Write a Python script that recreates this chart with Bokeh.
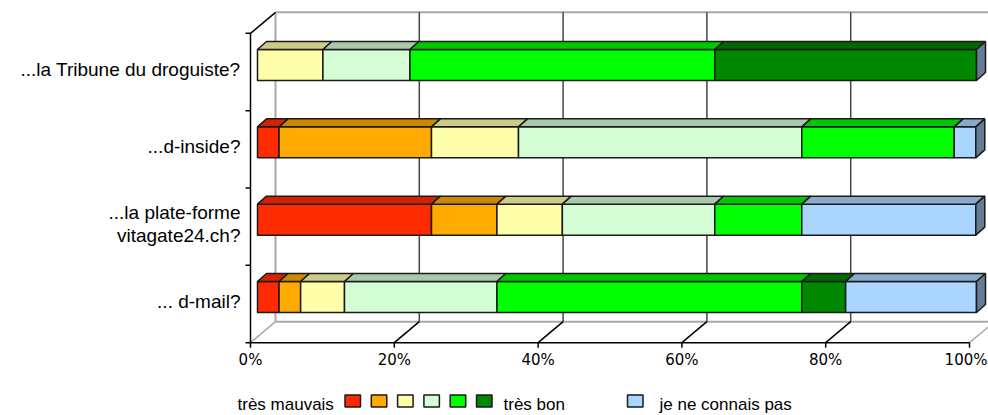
from bokeh.plotting import figure
from bokeh.models import Range1d
from bokeh.core.properties import value
from bokeh.embed import file_html
from bokeh.resources import INLINE

# ---------------- data (top to bottom as displayed) ----------------
categories = ["...la Tribune du droguiste?", "...d-inside?",
              "...la plate-forme\nvitagate24.ch?", "... d-mail?"]
tres_mauvais = [0.0, 3.0, 24.2, 3.0]
note_2 = [0.0, 21.2, 9.1, 3.0]
note_3 = [9.1, 12.1, 9.1, 6.1]
note_4 = [12.1, 39.4, 21.2, 21.2]
note_5 = [42.4, 21.2, 12.1, 42.4]
tres_bon = [36.4, 0.0, 0.0, 6.1]
je_ne_connais_pas = [0.0, 3.0, 24.2, 18.2]
series = [tres_mauvais, note_2, note_3, note_4, note_5, tres_bon, je_ne_connais_pas]
tick_values = [0, 20, 40, 60, 80, 100]
tick_labels = ["0%", "20%", "40%", "60%", "80%", "100%"]
legend_low = "très mauvais"
legend_high = "très bon"
legend_unknown = "je ne connais pas"

# ---------------- styles ----------------
front_colors = ["#FF2A00", "#FFAA00", "#FFFFAA", "#D5FDD5", "#00FF00", "#008800", "#AAD5FF"]
top_colors = ["#D42200", "#CC8800", "#CCCC88", "#AAC8AA", "#00C800", "#006800", "#88AACC"]
side_color = "#647C94"
edge = "#1a1a1a"
wall_gray = "#a8a8a8"
grid_col = "#454545"

# ---------------- geometry (pixels) ----------------
W, H = 988, 415
SX = 7.19            # px per percent on bar front plane
SY = 77.33           # px per category
X0_PX = 257          # px of 0% on bar front plane
Y0_PX = 296.5        # px (from top) of lowest category centre
BAR_H = 31           # px
DEPTH = (9, 8)       # bar depth offset (right, up)
AX_OFF = (-7, -7)    # front axis plane offset from bar plane (right, up)
BACK_OFF = (18, 14)  # back wall offset from bar plane (right, up)

x_start = -X0_PX / SX
x_end = x_start + W / SX
y_start = (Y0_PX - H) / SY
y_end = Y0_PX / SY


def ox(px):
    return px / SX


def oy(px):
    return px / SY


p = figure(width=W, height=H, output_backend="svg", toolbar_location=None,
           x_range=Range1d(x_start, x_end), y_range=Range1d(y_start, y_end),
           min_border=0, min_border_left=0, min_border_right=0,
           min_border_top=0, min_border_bottom=0)
p.axis.visible = False
p.grid.visible = False
p.outline_line_color = None
p.background_fill_color = "white"
p.border_fill_color = "white"

n = len(categories)
pos = [n - 1 - k for k in range(n)]  # y position of each category
y_lo = -0.5
y_hi = n - 0.5


def fx(v):
    return v + ox(AX_OFF[0])


def fy(c):
    return c + oy(AX_OFF[1])


def bx(v):
    return v + ox(BACK_OFF[0])


def by(c):
    return c + oy(BACK_OFF[1])


x_far = x_end + 5

# back wall edges (gray)
p.line([bx(0), x_far], [by(y_hi), by(y_hi)], line_color=wall_gray, line_width=2)
p.line([bx(0), x_far], [by(y_lo), by(y_lo)], line_color=wall_gray, line_width=2)
p.line([bx(0), bx(0)], [by(y_lo), by(y_hi)], line_color=wall_gray, line_width=2)
# back gridlines
for t in tick_values[1:-1]:
    p.line([bx(t), bx(t)], [by(y_lo), by(y_hi)], line_color=grid_col, line_width=1.5)
# floor diagonals
for t in tick_values:
    col = wall_gray if t in (tick_values[0], tick_values[-1]) else "black"
    p.line([fx(t), bx(t)], [fy(y_lo), by(y_lo)], line_color=col, line_width=1.5)
# top-left diagonal
p.line([fx(0), bx(0)], [fy(y_hi), by(y_hi)], line_color="black", line_width=1.5)
# front axis lines
p.line([fx(0), fx(100)], [fy(y_lo), fy(y_lo)], line_color="black", line_width=1.5)
p.line([fx(0), fx(0)], [fy(y_lo), fy(y_hi)], line_color="black", line_width=1.5)
# ticks
for t in tick_values:
    p.line([fx(t), fx(t)], [fy(y_lo), fy(y_lo) - oy(5)], line_color="black", line_width=1.5)
for k in range(n + 1):
    c = y_lo + k
    p.line([fx(0) - ox(5), fx(0)], [fy(c), fy(c)], line_color="black", line_width=1.5)

# ---------------- bars ----------------
half = oy(BAR_H) / 2
ddx, ddy = ox(DEPTH[0]), oy(DEPTH[1])
L, R, B, T, C = [], [], [], [], []
txs, tys, tcs = [], [], []
for ci in range(n):
    cum = 0.0
    yc = pos[ci]
    for si, s in enumerate(series):
        v = s[ci]
        if v <= 0:
            continue
        x0, x1 = cum, cum + v
        L.append(x0); R.append(x1); B.append(yc - half); T.append(yc + half)
        C.append(front_colors[si])
        txs.append([x0, x1, x1 + ddx, x0 + ddx])
        tys.append([yc + half, yc + half, yc + half + ddy, yc + half + ddy])
        tcs.append(top_colors[si])
        cum = x1

p.quad(left=L, right=R, bottom=B, top=T, fill_color=C, line_color=edge, line_width=1.5)
p.patches(txs, tys, fill_color=tcs, line_color=edge, line_width=1.5)
sxs, sys_ = [], []
for ci in range(n):
    yc = pos[ci]
    total = sum(s[ci] for s in series)
    sxs.append([total, total + ddx, total + ddx, total])
    sys_.append([yc - half, yc - half + ddy, yc + half + ddy, yc + half])
p.patches(sxs, sys_, fill_color=side_color, line_color=edge, line_width=1.5)

# ---------------- category labels ----------------
lab_x, lab_y, lab_t = [], [], []
for ci, cat in enumerate(categories):
    lines = cat.split("\n")
    m = len(lines)
    for li, ln in enumerate(lines):
        lab_x.append(fx(0) - ox(10))
        lab_y.append(fy(pos[ci]) + oy(3) - oy(23) * (li - (m - 1) / 2))
        lab_t.append(ln)
p.text(x=lab_x, y=lab_y, text=lab_t, text_align="right", text_baseline="middle",
       text_font=value("Liberation Sans"), text_font_size="19px", text_color="black")

# tick labels (last one kept inside the right edge)
p.text(x=[fx(t) for t in tick_values[:-1]], y=[fy(y_lo) - oy(17)] * (len(tick_values) - 1),
       text=tick_labels[:-1], text_align="center", text_baseline="middle",
       text_font=value("DejaVu Sans"), text_font_size="15px", text_color="black")
p.text(x=[x_end - ox(1)], y=[fy(y_lo) - oy(17)], text=[tick_labels[-1]],
       text_align="right", text_baseline="middle",
       text_font=value("DejaVu Sans"), text_font_size="15px", text_color="black")

# ---------------- legend ----------------
def lx(px_page):
    return x_start + ox(px_page)


def ly(py_page):
    return y_end - oy(py_page)


LEG_MID = 403.5
box_x = [344.5 + 26.3 * k for k in range(6)] + [627]
p.quad(left=[lx(b) for b in box_x], right=[lx(b + 15.5) for b in box_x],
       bottom=[ly(406.5)] * 7, top=[ly(394.5)] * 7,
       fill_color=front_colors, line_color=edge, line_width=1.5)
p.text(x=[lx(237), lx(503), lx(659)], y=[ly(LEG_MID)] * 3,
       text=[legend_low, legend_high, legend_unknown], text_align="left",
       text_baseline="middle", text_font=value("Liberation Sans"),
       text_font_size="17px", text_color="black")

open("out.html", "w").write(file_html(p, INLINE))
